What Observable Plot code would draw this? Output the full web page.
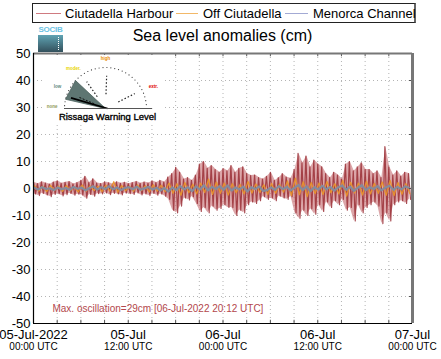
<!DOCTYPE html>
<html><head><meta charset="utf-8">
<script src="https://cdn.jsdelivr.net/npm/d3@7"></script>
<script src="https://cdn.jsdelivr.net/npm/@observablehq/plot@0.6"></script>
<style>
body{margin:0;background:#fff;font-family:"Liberation Sans",Arial,sans-serif;}
#wrap{position:relative;width:441px;height:359px;overflow:hidden;background:#fff;}
#wrap svg{position:absolute;}
.leg{position:absolute;left:32px;top:3px;width:381px;height:18px;border:1px solid #222;border-right:2px solid #666;background:#fff;}
.li{position:absolute;top:9px;height:1px;}
.lt{position:absolute;top:2px;font-size:13px;line-height:15px;color:#000;white-space:nowrap;}
.title{position:absolute;left:0;width:445px;top:26px;text-align:center;font-size:16px;line-height:20px;color:#000;}
.logo{position:absolute;left:38px;top:26px;width:25px;height:26px;}
.logo .t{font-size:8px;font-weight:bold;color:#6cc3e4;line-height:8px;letter-spacing:-0.3px;text-align:center;}
.logo .sq{position:absolute;top:9px;left:0;width:25px;height:17px;background:linear-gradient(#5fa3b3,#33505c);}
.logo .dl{position:absolute;left:20px;top:2px;height:13px;border-left:1px dotted #fff;}
</style></head><body><div id="wrap"></div>
<script>
// ---- data ----
const seriesNames = ["Ciutadella Harbour", "Off Ciutadella", "Menorca Channel"];
const seriesColors = ["#9a2f36", "#e8922b", "#858a9c"];
const bandColor = "#c46a70";
const legendColors = ["#cf7a80", "#f2b868", "#a3aad4"];
const startTime = Date.UTC(2022, 6, 5);
const endTime = Date.UTC(2022, 6, 7);
const labelTimes = [Date.UTC(2022,6,5,0), Date.UTC(2022,6,5,12), Date.UTC(2022,6,6,0), Date.UTC(2022,6,6,12), Date.UTC(2022,6,7,0)];
const dateLabels = ["05-Jul-2022", "05-Jul", "06-Jul", "06-Jul", "07-Jul"];
const hourLabels = ["00:00 UTC", "12:00 UTC", "00:00 UTC", "12:00 UTC", "00:00 UTC"];
const yTicks = [-50, -40, -30, -20, -10, 0, 10, 20, 30, 40, 50];
const titleText = "Sea level anomalies (cm)";
const maxOscillation = 29;
const maxOscTime = "06-Jul-2022 20:12 UTC";

// Ciutadella Harbour: high / low per 30-min bin
const harbourHigh = [
 2.2,1.8,2.5,2.0,1.6,2.4,2.8,1.9,2.3,2.6,1.7,2.2,
 3.0,4.5,2.2,3.6,2.0,1.8,2.4,2.1,1.6,2.5,1.9,2.3,
 1.8,2.2,2.6,1.9,2.4,2.0,2.8,2.2,3.0,2.4,
 4.2,5.5,7.8,6.0,3.5,4.0,3.0,5.0,
 9.0,10.0,7.5,8.5,7.0,6.0,7.4,6.5,
 8.5,6.0,7.5,8.0,5.5,4.8,5.0,4.0,
 3.5,4.5,6.0,3.0,4.0,5.5,4.2,3.8,
 7.0,13.0,9.5,12.0,8.0,10.5,9.0,8.0,
 5.5,4.0,6.0,5.0,3.5,
 9.0,10.0,6.5,8.0,9.5,7.0,
 7.0,5.5,6.5,4.0,
 15.5,8.0,
 5.0,6.5,4.5,6.0,5.5];
const harbourLow = [
 -2.0,-2.6,-1.8,-2.4,-3.0,-2.2,-1.9,-2.7,-2.3,-1.8,-2.5,-2.1,
 -2.4,-3.6,-2.2,-2.8,-1.9,-2.0,-1.6,-2.3,-1.8,-2.0,-2.4,-1.7,
 -1.9,-2.2,-1.6,-2.4,-2.0,-2.6,-1.8,-2.5,-2.0,-2.8,
 -4.0,-8.0,-9.0,-6.5,-3.5,-4.2,-3.0,-5.5,
 -8.5,-7.0,-9.0,-6.5,-8.0,-7.4,-6.0,-7.0,
 -7.0,-10.0,-8.0,-9.0,-6.0,-5.0,-5.5,-4.5,
 -3.0,-4.0,-3.5,-4.5,-2.8,-3.5,-4.0,-3.0,
 -9.0,-11.0,-8.0,-10.0,-7.5,-9.5,-6.0,-8.5,
 -5.0,-7.0,-4.5,-6.0,-4.0,
 -8.0,-7.0,-12.0,-6.0,-9.0,-7.0,
 -6.0,-5.0,-6.5,-13.0,
 -9.0,-12.0,
 -6.0,-5.0,-4.5,-5.5,-4.0];
// Off Ciutadella: high / low per hour
const offHigh = [1.0,0.8,1.2,0.9,1.1,0.7,1.3,1.0,0.9,1.2,2.5,1.1, 0.9,1.3,1.0,1.4,1.2,2.0,1.8,2.2,1.6,2.0,3.5,2.4, 2.0,1.8,1.5,2.6,1.7,1.4,1.9,1.6,2.8,3.8,2.5,2.2, 2.0,2.6,1.8,3.0,2.3,2.0,2.7,1.9,2.4,3.0,2.2,1.8];
const offLow = [-1.0,-1.2,-0.8,-1.1,-0.9,-1.3,-1.0,-0.8,-1.2,-1.0,-1.4,-0.9, -1.1,-0.8,-1.3,-1.0,-1.2,-1.8,-2.5,-1.6,-2.0,-1.5,-2.2,-1.8, -2.4,-1.6,-2.0,-1.7,-1.5,-2.2,-1.8,-1.4,-2.6,-2.3,-3.0,-1.9, -2.2,-1.6,-2.0,-2.8,-1.7,-2.4,-2.0,-1.8,-2.5,-2.6,-2.1,-1.9];
// Menorca Channel: value per 30-min
const channel = [0.3,-0.4,0.5,-0.2,0.1,-0.6,0.4,-0.3,0.2,-0.5,0.6,-0.1, 0.3,-0.7,0.2,0.8,-0.4,0.5,-0.2,0.9,-0.3,0.4,-0.6,0.2, 0.5,-0.3,0.7,-0.5,0.1,0.6,-0.4,0.3,-0.8,0.2,-1.2,0.4, -0.6,0.9,-0.3,0.5,-1.0,0.8,-0.4,1.2,-0.7,0.6,-0.2,0.9, -0.5,1.1,-0.8,0.4,-0.3,0.7,-1.1,0.5,-0.2,0.8,-0.9,-0.6, 0.4,-0.5,0.9,-0.2,0.6,-0.7,0.3,1.3,-0.6,0.8,-1.0,0.5, -0.4,1.0,-0.3,0.6,-0.8,0.4,1.1,-0.5,0.7,-0.9,0.3,1.2, -0.6,0.5,-0.2,0.9,-0.7,0.4,1.0,-0.5,0.6,-0.3,0.8,0.2];

// Rissaga gauge
const gaugeLevelNames = ["none", "low", "moder.", "high", "extr."];
const gaugeLevelColors = ["#8f9a5a", "#5f8a80", "#e8d400", "#e88a00", "#e00000"];
const gaugeLevelAngles = [178, 154, 127, 90, 26];
const gaugeWedge = [137, 167];
const gaugeNeedle = 163;
const gaugeLabel = "Rissaga Warning Level";

// ---- build ----
const MIN = 60000;
const harbourPts = [];
const harbourBand = [];
harbourHigh.forEach((h, i) => {
  harbourPts.push({t: new Date(startTime + i*30*MIN), v: h});
  harbourPts.push({t: new Date(startTime + i*30*MIN + 15*MIN), v: harbourLow[i]});
  harbourBand.push({t: new Date(startTime + i*30*MIN + 7*MIN), lo: harbourLow[i], hi: h});
});
const offPts = [];
offHigh.forEach((h, i) => {
  offPts.push({t: new Date(startTime + i*60*MIN + 10*MIN), v: h});
  offPts.push({t: new Date(startTime + i*60*MIN + 40*MIN), v: offLow[i]});
});
const chanPts = channel.map((v, i) => ({t: new Date(startTime + i*30*MIN + 5*MIN), v}));
const gridTimes = d3.utcHour.every(3).range(new Date(startTime + 1), new Date(endTime));
const t0 = new Date(startTime), t1 = new Date(endTime);
const tickLenT = 0.4*3600000;
const labelDates = labelTimes.map(d => new Date(d));

const chart = Plot.plot({
  width: 441, height: 359,
  marginTop: 53, marginLeft: 33, marginRight: 29, marginBottom: 36,
  style: {fontFamily: "'Liberation Sans', Arial, sans-serif", background: "transparent", overflow: "visible"},
  x: {type: "utc", domain: [t0, t1], axis: null},
  y: {domain: [-50, 50], axis: null},
  marks: [
    Plot.ruleY(yTicks.filter(d => d > -50 && d < 50), {stroke: "#b4b4b4", strokeDasharray: "1,3"}),
    Plot.ruleX(gridTimes, {stroke: "#b4b4b4", strokeDasharray: "1,3"}),
    Plot.areaY(harbourBand, {x: "t", y1: "lo", y2: "hi", fill: bandColor, fillOpacity: 0.6}),
    Plot.line(harbourPts, {x: "t", y: "v", stroke: seriesColors[0], strokeWidth: 1.2, strokeOpacity: 0.85}),
    Plot.line(offPts, {x: "t", y: "v", stroke: seriesColors[1], strokeWidth: 1.3, strokeOpacity: 0.95}),
    Plot.line(chanPts, {x: "t", y: "v", stroke: seriesColors[2], strokeWidth: 2.2}),
    Plot.ruleX(gridTimes, {y1: -50, y2: -48.8, stroke: "#555"}),
    Plot.ruleX(gridTimes, {y1: 50, y2: 48.8, stroke: "#555"}),
    Plot.ruleY(yTicks, {x1: new Date(endTime - tickLenT), x2: t1, stroke: "#555"}),
    Plot.ruleY([50], {stroke: "#777", strokeWidth: 2}),
    Plot.ruleX([t1], {stroke: "#777", strokeWidth: 3}),
    Plot.ruleX([t0], {stroke: "#000", strokeWidth: 1.2}),
    Plot.ruleY([-50], {stroke: "#000", strokeWidth: 1.2}),
    Plot.text(yTicks, {x: t0, y: d => d, text: d => String(d), dx: -3, textAnchor: "end", fontSize: 13, fill: "#000"}),
    Plot.text(labelDates, {x: d => d, y: -50, text: (d, i) => dateLabels[i], dy: 11, fontSize: 13, fill: "#000"}),
    Plot.text(labelDates, {x: d => d, y: -50, text: (d, i) => hourLabels[i], dy: 23.5, fontSize: 10, fill: "#000"}),
    Plot.text([`Max. oscillation=${maxOscillation}cm [${maxOscTime}]`], {x: new Date(startTime + 2.4*3600000), y: -44.5, text: d => d, textAnchor: "start", fontSize: 10, fill: "#b3474c"})
  ]
});
chart.style.left = "0px"; chart.style.top = "0px";
const wrap = document.getElementById("wrap");
wrap.appendChild(chart);

// Gauge
const rad = a => a * Math.PI / 180;
const arcPts = d3.range(0, 181, 5.5).map(a => ({x: Math.cos(rad(a)), y: Math.sin(rad(a))}));
const wedgePts = [{x: 0, y: 0}, {x: Math.cos(rad(gaugeWedge[0])), y: Math.sin(rad(gaugeWedge[0]))}, {x: Math.cos(rad(gaugeWedge[1])), y: Math.sin(rad(gaugeWedge[1]))}, {x: 0, y: 0}];
const radial = [88, 125, 27].map(a => ({x1: 0.35*Math.cos(rad(a)), y1: 0.35*Math.sin(rad(a)), x2: 0.8*Math.cos(rad(a)), y2: 0.8*Math.sin(rad(a))}));
const levelLabels = gaugeLevelNames.map((n, i) => ({n, c: gaugeLevelColors[i], x: 1.3*Math.cos(rad(gaugeLevelAngles[i])), y: 1.22*Math.sin(rad(gaugeLevelAngles[i]))}));
const gauge = Plot.plot({
  width: 118, height: 68, margin: 0,
  style: {fontFamily: "'Liberation Sans', Arial, sans-serif", background: "#fff", overflow: "visible"},
  x: {domain: [-1, 1], range: [19, 101], axis: null},
  y: {domain: [0, 1], range: [53, 12], axis: null},
  marks: [
    Plot.dot(arcPts, {x: "x", y: "y", r: 0.6, fill: "#333"}),
    Plot.line(wedgePts, {x: "x", y: "y", fill: "#5e7672", stroke: "#4d625e", strokeWidth: 0.8}),
    Plot.link(radial, {x1: "x1", y1: "y1", x2: "x2", y2: "y2", stroke: "#222", strokeWidth: 1.2, strokeDasharray: "1.5,2"}),
    Plot.link([gaugeNeedle], {x1: 0.05, y1: 0, x2: a => 0.88*Math.cos(rad(a)), y2: a => 0.88*Math.sin(rad(a)), stroke: "#000", strokeWidth: 1.8}),
    Plot.link([gaugeNeedle - 6], {x1: a => 0.3*Math.cos(rad(a)), y1: a => 0.3*Math.sin(rad(a)), x2: a => 0.7*Math.cos(rad(a)), y2: a => 0.7*Math.sin(rad(a)), stroke: "#111", strokeWidth: 1, strokeDasharray: "2,1.5"}),
    Plot.ruleY([0], {x1: -1, x2: 1.15, stroke: "#555", strokeWidth: 1.2}),
    Plot.text(levelLabels, {x: "x", y: "y", text: "n", fill: "c", fontSize: 4.5, fontWeight: "bold"}),
    Plot.text([gaugeLabel], {x: 0.05, y: -0.2, text: d => d, fontSize: 9.5, fill: "#000", stroke: "#000", strokeWidth: 0.35})
  ]
});
gauge.style.left = "45px"; gauge.style.top = "55px";
wrap.appendChild(gauge);

// Legend
const leg = document.createElement("div");
leg.className = "leg";
const legPos = [[3, 25, 32], [143, 22, 170], [252, 23, 280]];
seriesNames.forEach((n, i) => {
  const l = document.createElement("div");
  l.className = "li";
  l.style.left = legPos[i][0] + "px"; l.style.width = legPos[i][1] + "px"; l.style.background = legendColors[i];
  leg.appendChild(l);
  const t = document.createElement("div");
  t.className = "lt"; t.style.left = legPos[i][2] + "px"; t.textContent = n;
  leg.appendChild(t);
});
wrap.appendChild(leg);

// Title
const ti = document.createElement("div");
ti.className = "title"; ti.textContent = titleText;
wrap.appendChild(ti);

// Logo
const logo = document.createElement("div");
logo.className = "logo";
logo.innerHTML = '<div class="t">SOCIB</div><div class="sq"><div class="dl"></div></div>';
wrap.appendChild(logo);
</script></body></html>
